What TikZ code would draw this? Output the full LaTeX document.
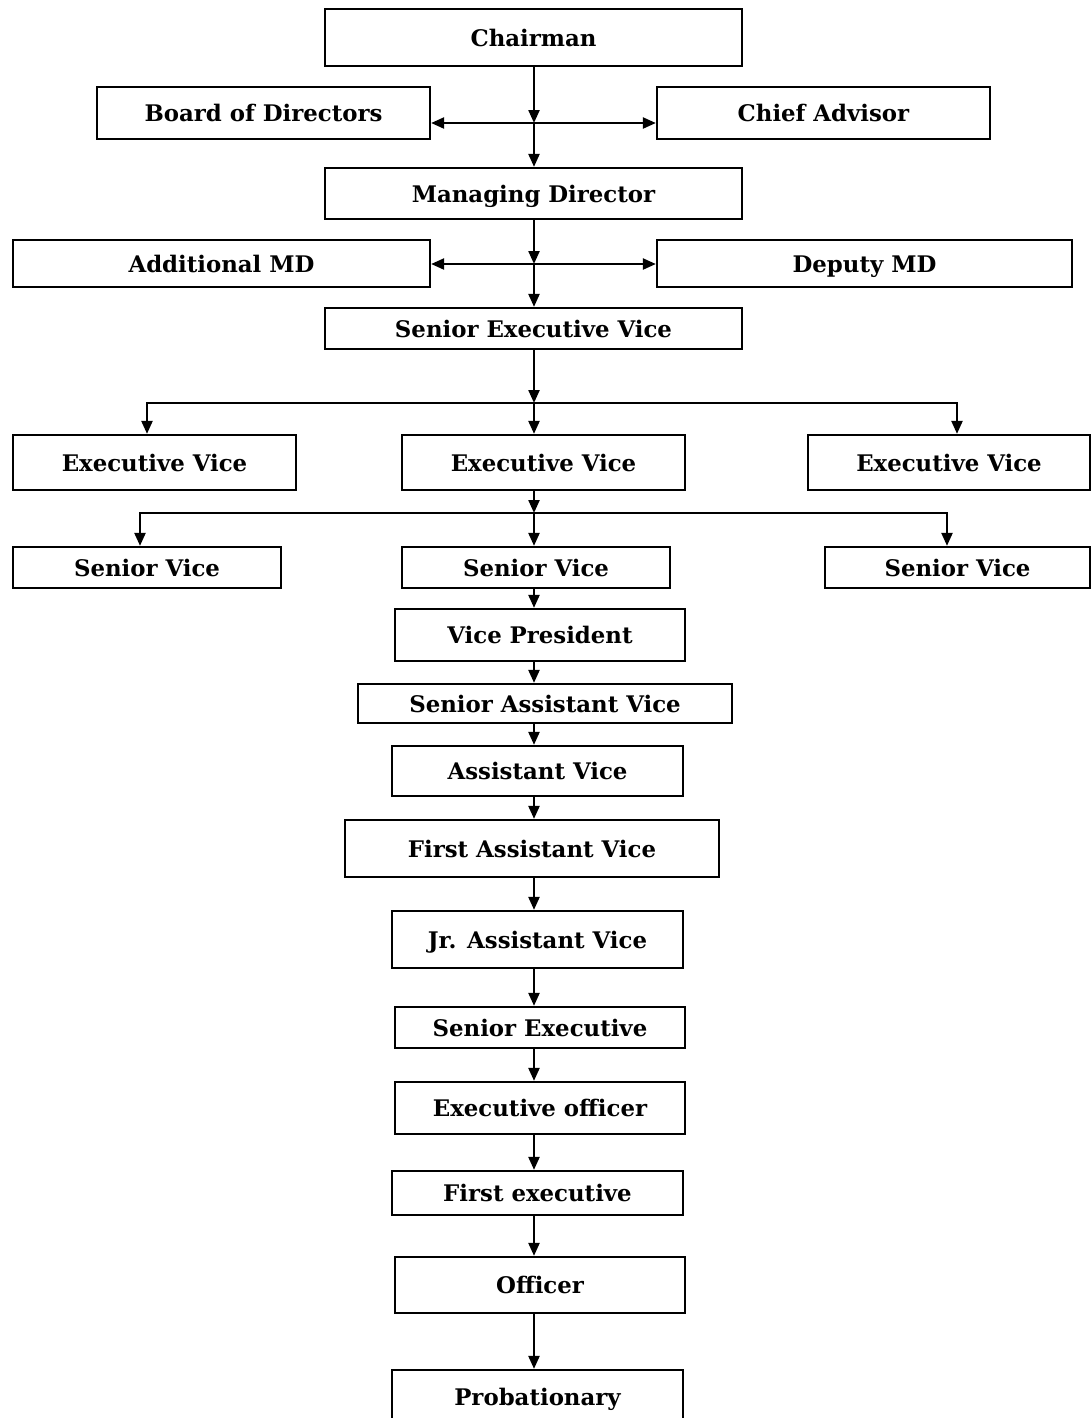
\documentclass[tikz,border=0pt]{standalone}
\usepackage{fontspec}
\setmainfont{DejaVu Serif}
\usetikzlibrary{arrows.meta,positioning}

\begin{document}
\begin{tikzpicture}[
  x=0.02cm,y=-0.02cm,
  post/.style={draw=black,line width=1.3pt,fill=white,inner sep=0pt,align=center,
    text height=12pt,text depth=2pt,font=\fontsize{13}{15}\selectfont\bfseries},
  wh/.style 2 args={minimum width=#1*0.02cm,minimum height=#2*0.02cm},
  flow/.style={-{Triangle[length=2.6mm,width=2.2mm]},draw=black,line width=1.3pt}
]
\useasboundingbox (0,0) rectangle (1092,1418);
\clip (0,0) rectangle (1092,1418);

% top of the chart
\node[post,wh={417}{57}] (chair) at (533.5,37.5) {Chairman};
\node[post,wh={333}{52}] (board) at (263.5,113) {Board of Directors};
\node[post,wh={333}{52}] (advisor) at (823.5,113) {Chief Advisor};
\node[post,wh={417}{51}] (md) at (533.5,193.5) {Managing Director};
\node[post,wh={417}{47}] (addmd) at (221.5,263.5) {Additional MD};
\node[post,wh={415}{47}] (depmd) at (864.5,263.5) {Deputy MD};
\node[post,wh={417}{41}] (sev) at (533.5,328.5) {Senior Executive Vice};

% three branches
\node[post,wh={283}{55}] (evl) at (154.5,462.5) {Executive Vice};
\node[post,wh={283}{55}] (evc) at (543.5,462.5) {Executive Vice};
\node[post,wh={282}{55}] (evr) at (949,462.5) {Executive Vice};
\node[post,wh={268}{41}] (svl) at (147,567.5) {Senior Vice};
\node[post,wh={268}{41}] (svc) at (536,567.5) {Senior Vice};
\node[post,wh={265}{41}] (svr) at (957.5,567.5) {Senior Vice};

% main line
\node[post,wh={290}{52}] (vp) at (540,635) {Vice President};
\node[post,wh={374}{39}] (sav) at (545,703.5) {Senior Assistant Vice};
\node[post,wh={291}{50}] (av) at (537.5,771) {Assistant Vice};
\node[post,wh={374}{57}] (fav) at (532,848.5) {First Assistant Vice};
\node[post,wh={291}{57}] (jav) at (537.5,939.5) {Jr. Assistant Vice};
\node[post,wh={290}{41}] (se) at (540,1027.5) {Senior Executive};
\node[post,wh={290}{52}] (eo) at (540,1108) {Executive officer};
\node[post,wh={291}{44}] (fe) at (537.5,1193) {First executive};
\node[post,wh={290}{56}] (off) at (540,1285) {Officer};
\node[post,wh={291}{54}] (prob) at (537.5,1397) {Probationary};

\coordinate (j1) at (534,123);
\coordinate (j2) at (534,264);
\coordinate (j3) at (534,403);
\coordinate (j4) at (534,513);

\draw[flow] (chair.south -| j1) -- (j1);
\draw[flow] (j1) -- (md.north -| j1);
\draw[flow] (j1) -- (j1 -| board.east);
\draw[flow] (j1) -- (j1 -| advisor.west);

\draw[flow] (md.south -| j2) -- (j2);
\draw[flow] (j2) -- (sev.north -| j2);
\draw[flow] (j2) -- (j2 -| addmd.east);
\draw[flow] (j2) -- (j2 -| depmd.west);

\draw[flow] (sev.south -| j3) -- (j3);
\draw[flow] (j3) -- (evc.north -| j3);
\draw[flow] (j3) -| ([xshift=-0.15cm]evl.north);
\draw[flow] (j3) -| ([xshift=0.16cm]evr.north);

\draw[flow] (evc.south -| j4) -- (j4);
\draw[flow] (j4) -- (svc.north -| j4);
\draw[flow] (j4) -| ([xshift=-0.14cm]svl.north);
\draw[flow] (j4) -| ([xshift=-0.21cm]svr.north);

\foreach \a/\b in {svc/vp,vp/sav,sav/av,av/fav,fav/jav,jav/se,se/eo,eo/fe,fe/off,off/prob}
  \draw[flow] (\a.south -| j1) -- (\b.north -| j1);
\end{tikzpicture}
\end{document}
